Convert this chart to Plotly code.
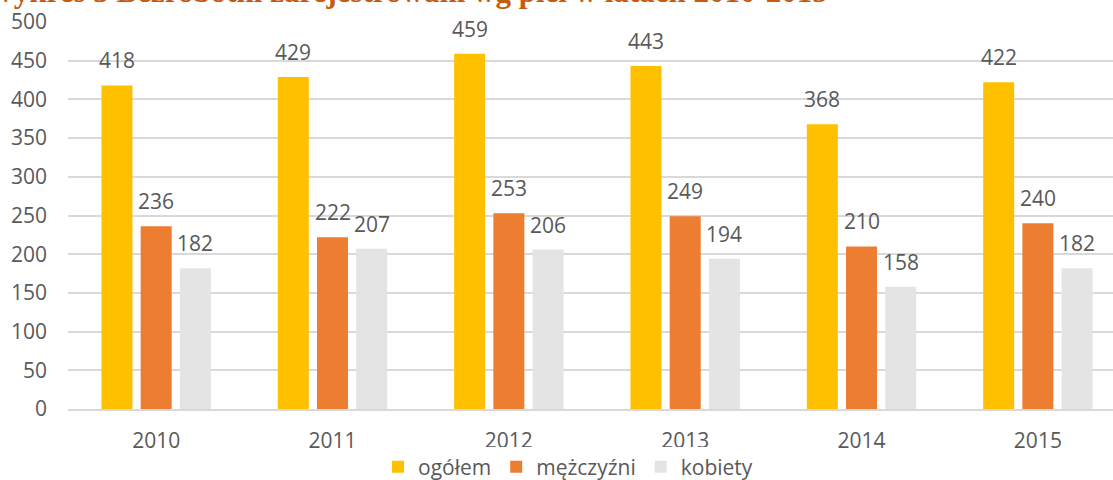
import plotly.graph_objects as go

years = ["2010", "2011", "2012", "2013", "2014", "2015"]
ogolem = [418, 429, 459, 443, 368, 422]
mezczyzni = [236, 222, 253, 249, 210, 240]
kobiety = [182, 207, 206, 194, 158, 182]
series_names = ["ogółem", "mężczyźni", "kobiety"]
colors = ["#FFC000", "#ED7D31", "#E4E4E4"]
title_text = "Wykres 3 Bezrobotni zarejestrowani wg płci w latach 2010-2015"
y_ticks = [0, 50, 100, 150, 200, 250, 300, 350, 400, 450, 500]

W, H = 1113, 480
ML, MT, MB = 68, 22, 71
BARGAP = 0.333
BARGROUPGAP = 0.209
TXT = "#595959"
FONT = "Open Sans"
FS = 21

series = [ogolem, mezczyzni, kobiety]
fig = go.Figure()
for name, vals, col in zip(series_names, series, colors):
    fig.add_trace(go.Bar(x=years, y=vals, name=name, marker=dict(color=col, line=dict(width=0))))

# data labels
slot = (1 - BARGAP) / len(series)
for si, vals in enumerate(series):
    off = (si - (len(series) - 1) / 2) * slot
    for ci, v in enumerate(vals):
        fig.add_annotation(x=ci + off, y=v, xref="x", yref="y", text=str(v),
                           showarrow=False, yanchor="middle", yshift=25,
                           font=dict(family=FONT, size=FS, color=TXT))

# title, clipped by the top edge as in the reference
plot_w = W - ML
plot_h = H - MT - MB
fig.add_annotation(xref="paper", yref="paper", x=(830 - ML) / plot_w,
                   y=1 + (MT - 11.5) / plot_h, xanchor="right", yanchor="bottom",
                   text="<b>" + title_text + "</b>", showarrow=False,
                   font=dict(family="Liberation Serif", size=31, color="#C55A11"))

fig.update_layout(
    width=W, height=H,
    margin=dict(l=ML, r=0, t=MT, b=MB, pad=0, autoexpand=False),
    paper_bgcolor="white", plot_bgcolor="white",
    barmode="group", bargap=BARGAP, bargroupgap=BARGROUPGAP,
    font=dict(family=FONT, size=FS, color=TXT),
    showlegend=True,
    legend=dict(orientation="h", xref="container", yref="paper",
                x=568 / W, y=-(467 - (H - MB)) / plot_h, xanchor="center", yanchor="middle",
                font=dict(family=FONT, size=FS, color=TXT),
                itemwidth=30, tracegroupgap=0),
    xaxis=dict(type="category", range=[-0.5, 5.426], showgrid=False,
               showline=True, linecolor="#D9D9D9", linewidth=1.5,
               ticks="", ticklabelstandoff=12, fixedrange=True,
               tickfont=dict(family=FONT, size=FS, color=TXT)),
    yaxis=dict(range=[0, 500], tickvals=y_ticks, showgrid=True,
               gridcolor="#D9D9D9", gridwidth=1.5, zeroline=False,
               showline=False, ticks="", ticklabelstandoff=20,
               tickfont=dict(family=FONT, size=FS, color=TXT)),
)

fig.write_html("out.html", config={"displayModeBar": False},
               post_script="document.body.style.margin='0';document.body.style.overflow='hidden';")
